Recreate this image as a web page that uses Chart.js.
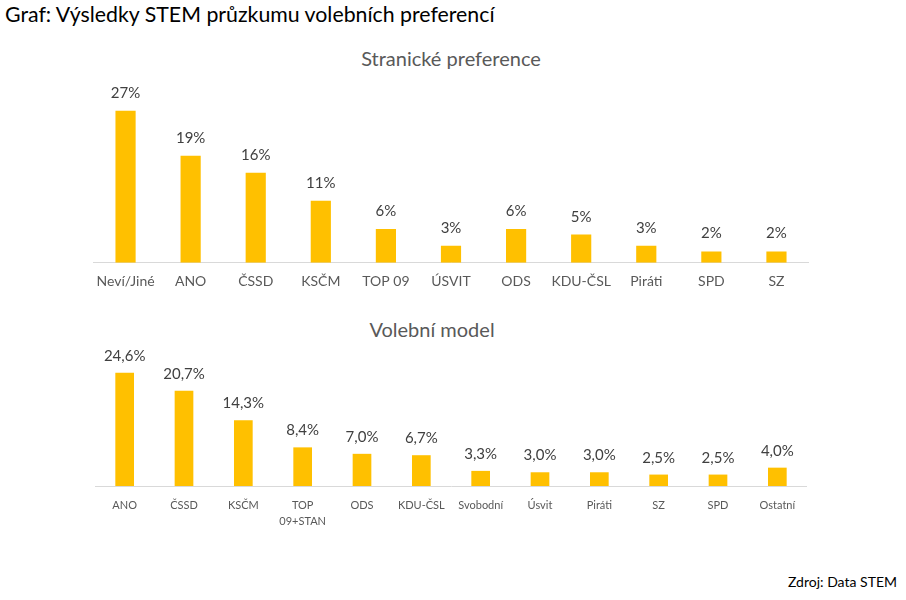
<!DOCTYPE html>
<html>
<head>
<meta charset="utf-8">
<script src="https://cdn.jsdelivr.net/npm/chart.js@4/dist/chart.umd.min.js"></script>
<style>
  body { margin: 0; background: #fff; width: 906px; height: 600px; position: relative; overflow: hidden; font-family: Lato, "Open Sans", sans-serif; }
  .box { position: absolute; }
  #mainTitle { left: 5px; top: 1px; font-size: 21.3px; color: #000; white-space: nowrap; }
  .subTitle { font-size: 20px; color: #595959; white-space: nowrap; transform: translateX(-50%); }
  #source { right: 9px; top: 573px; font-size: 14px; color: #000; white-space: nowrap; }
</style>
</head>
<body>
<div class="box" id="mainTitle">Graf: Výsledky STEM průzkumu volebních preferencí</div>
<div class="box subTitle" style="left:451px; top:46px;">Stranické preference</div>
<div class="box" style="left:93px; top:80px; width:716px; height:220px;"><canvas id="prefChart"></canvas></div>
<div class="box subTitle" style="left:432px; top:317px;">Volební model</div>
<div class="box" style="left:95px; top:345px; width:712px; height:194px;"><canvas id="modelChart"></canvas></div>
<div class="box" id="source">Zdroj: Data STEM</div>

<script>
// Stranické preference
var prefLabels = ['Neví/Jiné', 'ANO', 'ČSSD', 'KSČM', 'TOP 09', 'ÚSVIT', 'ODS', 'KDU-ČSL', 'Piráti', 'SPD', 'SZ'];
var prefValues = [27, 19, 16, 11, 6, 3, 6, 5, 3, 2, 2];

// Volební model
var modelLabels = ['ANO', 'ČSSD', 'KSČM', ['TOP', '09+STAN'], 'ODS', 'KDU-ČSL', 'Svobodní', 'Úsvit', 'Piráti', 'SZ', 'SPD', 'Ostatní'];
var modelValues = [24.6, 20.7, 14.3, 8.4, 7.0, 6.7, 3.3, 3.0, 3.0, 2.5, 2.5, 4.0];

var barColor = '#FFC000';

// draws value above each bar
var valueLabels = {
    id: 'valueLabels',
    afterDatasetsDraw: function(chart, args, opts) {
        var ctx = chart.ctx;
        var meta = chart.getDatasetMeta(0);
        var data = chart.data.datasets[0].data;
        ctx.save();
        ctx.font = '15px Lato, "Open Sans", sans-serif';
        ctx.fillStyle = '#404040';
        ctx.textAlign = 'center';
        ctx.textBaseline = 'alphabetic';
        meta.data.forEach(function(bar, i) {
            ctx.fillText(opts.format(data[i]), bar.x, bar.y - opts.gap);
        });
        ctx.restore();
    }
};

function makeChart(id, labels, values, max, padTop, padBottom, tickSize, tickPad, barPct, fmt, gap) {
    return new Chart(document.getElementById(id), {
        type: 'bar',
        data: {
            labels: labels,
            datasets: [{
                data: values,
                backgroundColor: barColor,
                barPercentage: barPct,
                categoryPercentage: 1
            }]
        },
        options: {
            responsive: true,
            maintainAspectRatio: false,
            animation: false,
            layout: { padding: { top: padTop, bottom: padBottom, left: 0, right: 0 } },
            plugins: {
                legend: { display: false },
                tooltip: { enabled: false },
                valueLabels: { format: fmt, gap: gap }
            },
            scales: {
                x: {
                    grid: { display: false },
                    border: { color: '#d9d9d9', width: 1 },
                    ticks: {
                        color: '#595959',
                        padding: tickPad,
                        maxRotation: 0,
                        autoSkip: false,
                        font: { family: 'Lato, "Open Sans", sans-serif', size: tickSize, lineHeight: 1.45 }
                    }
                },
                y: { display: false, min: 0, max: max }
            }
        },
        plugins: [valueLabels]
    });
}

makeChart('prefChart', prefLabels, prefValues, 30, 14, 7, 14, 1, 0.31,
    function(v) { return Math.round(v) + '%'; }, 13);

makeChart('modelChart', modelLabels, modelValues, 28, 12, 7, 11, 3, 0.315,
    function(v) { return v.toFixed(1).replace('.', ',') + '%'; }, 12);
</script>
</body>
</html>
